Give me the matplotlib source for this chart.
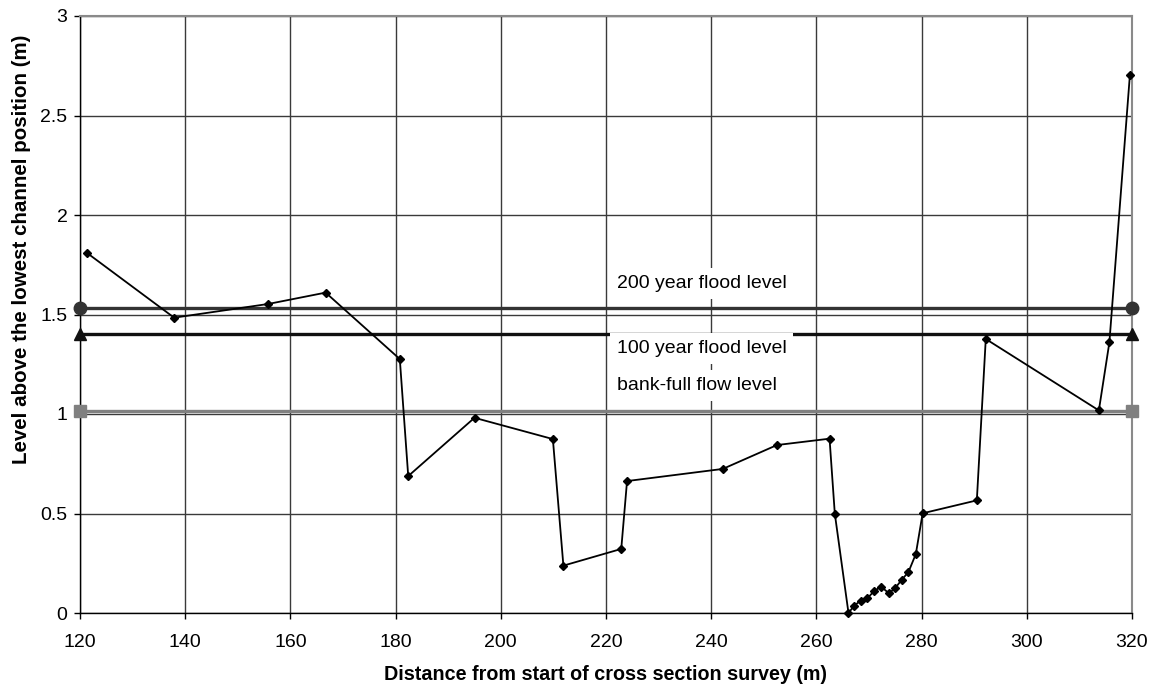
import matplotlib
matplotlib.use("Agg")
import matplotlib.pyplot as plt
from matplotlib.ticker import FuncFormatter

plt.rcParams['font.family'] = ['Liberation Sans', 'DejaVu Sans']

# Survey data
distance = [121.3, 137.9, 155.8, 166.7, 180.8, 182.4, 195.0, 209.9, 211.9, 222.9,
            224.0, 242.2, 252.5, 262.5, 263.5, 266.1, 267.2, 268.4, 269.7, 271.0,
            272.3, 273.8, 275.0, 276.2, 277.5, 278.9, 280.2, 290.5, 292.2, 313.7,
            315.7, 319.6]
level = [1.81, 1.484, 1.553, 1.61, 1.276, 0.688, 0.981, 0.874, 0.238, 0.322,
         0.663, 0.724, 0.844, 0.876, 0.499, 0.0, 0.037, 0.062, 0.074, 0.111,
         0.132, 0.099, 0.126, 0.166, 0.206, 0.296, 0.501, 0.566, 1.377, 1.018,
         1.360, 2.704]

line_x = [120, 320]
flood_200 = 1.534
flood_100 = 1.400
bank_full = 1.015

x_ticks = [120, 140, 160, 180, 200, 220, 240, 260, 280, 300, 320]
y_ticks = [0, 0.5, 1, 1.5, 2, 2.5, 3]

fig = plt.figure(figsize=(11.54, 6.90), dpi=100)
ax = fig.add_axes([80/1154, 1-613/690, (1132-80)/1154, (613-16)/690])

ax.set_xlim(120, 320)
ax.set_ylim(0, 3)
ax.set_xticks(x_ticks)
ax.set_yticks(y_ticks)
ax.yaxis.set_major_formatter(FuncFormatter(lambda v, p: '%g' % v))
ax.grid(True, color='#3a3a3a', linewidth=1.0, zorder=0)
ax.set_axisbelow(True)

ax.tick_params(axis='both', direction='out', length=4, width=1, labelsize=14,
               colors='black')
ax.tick_params(axis='x', pad=11)
ax.tick_params(axis='y', pad=5)
for s in ['left', 'bottom']:
    ax.spines[s].set_color('black')
    ax.spines[s].set_linewidth(1.0)
for s in ['top', 'right']:
    ax.spines[s].set_color('#8a8a8a')
    ax.spines[s].set_linewidth(1.5)

# flood level lines
ax.plot(line_x, [flood_200]*2, color='#333333', lw=2.4, marker='o', ms=9,
        clip_on=False, zorder=4)
ax.plot(line_x, [flood_100]*2, color='#111111', lw=2.4, marker='^', ms=9,
        clip_on=False, zorder=4)
ax.plot(line_x, [bank_full]*2, color='#808080', lw=2.4, marker='s', ms=9,
        clip_on=False, zorder=4)

# survey profile
ax.plot(distance, level, color='black', lw=1.3, marker='D', ms=4.4,
        clip_on=False, zorder=5)

bbox = dict(facecolor='white', edgecolor='none', pad=5)
ax.text(222.0, 1.658, '200 year flood level', fontsize=14, va='center',
        ha='left', bbox=bbox, zorder=6)
ax.text(222.0, 1.330, '100 year flood level', fontsize=14, va='center',
        ha='left', bbox=bbox, zorder=6)
ax.text(222.0, 1.141, 'bank-full flow level', fontsize=14, va='center',
        ha='left', bbox=bbox, zorder=6)

ax.set_xlabel('Distance from start of cross section survey (m)', fontsize=14.2,
              fontweight='bold')
ax.set_ylabel('Level above the lowest channel position (m)', fontsize=14.8,
              fontweight='bold')
ax.xaxis.set_label_coords(0.5, -0.087)
ax.yaxis.set_label_coords(-0.047, 0.61)

fig.savefig('out.png', dpi=100)
